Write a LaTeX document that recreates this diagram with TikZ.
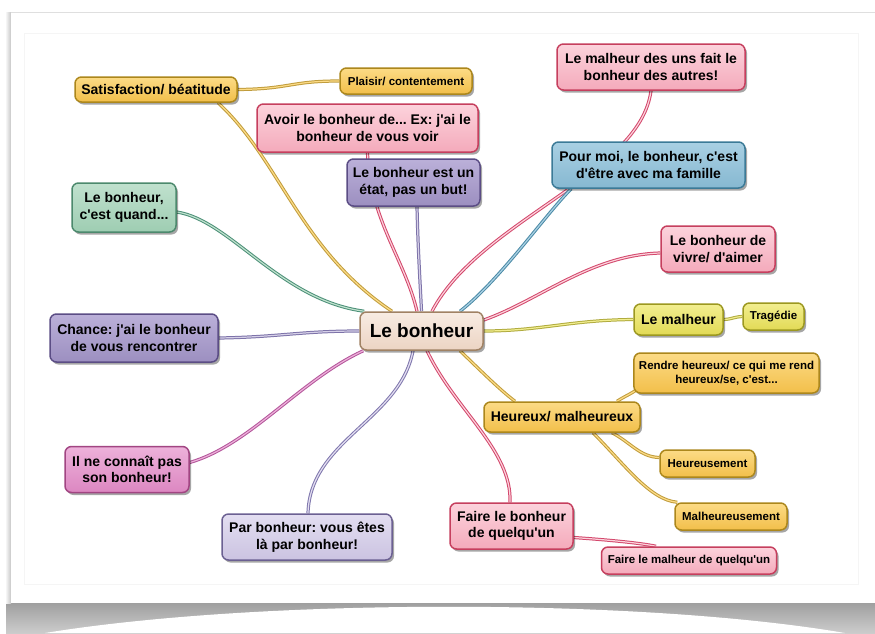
\documentclass[tikz,border=0pt]{standalone}
\usepackage{fontspec}
\setmainfont{Liberation Sans}
\usetikzlibrary{shadows}
\frenchspacing
\newcommand\ap{\textquotesingle}
\pgfdeclarelayer{paper}
\pgfdeclarelayer{lines}
\pgfsetlayers{paper,lines,main}
% node colours: fill top, fill bottom, border
\definecolor{goldT}{HTML}{FCDB86}\definecolor{goldB}{HTML}{F2BF4A}\definecolor{goldD}{HTML}{AC871C}
\definecolor{pinkT}{HTML}{FCD3DC}\definecolor{pinkB}{HTML}{F4AABB}\definecolor{pinkD}{HTML}{C63F5E}
\definecolor{purT}{HTML}{BBB0D9}\definecolor{purB}{HTML}{9C8FC0}\definecolor{purD}{HTML}{5B4D85}
\definecolor{bluT}{HTML}{A9D0E3}\definecolor{bluB}{HTML}{86B8D1}\definecolor{bluD}{HTML}{3B7A97}
\definecolor{grnT}{HTML}{C0E1CE}\definecolor{grnB}{HTML}{9ECDB2}\definecolor{grnD}{HTML}{4C896D}
\definecolor{ctrT}{HTML}{F8ECE3}\definecolor{ctrB}{HTML}{ECD4C3}\definecolor{ctrD}{HTML}{A08264}
\definecolor{yelT}{HTML}{F2EE90}\definecolor{yelB}{HTML}{E2DA55}\definecolor{yelD}{HTML}{9C9820}
\definecolor{magT}{HTML}{EDB1DA}\definecolor{magB}{HTML}{DC87C1}\definecolor{magD}{HTML}{A14582}
\definecolor{lavT}{HTML}{E3DEF1}\definecolor{lavB}{HTML}{CBC3E1}\definecolor{lavD}{HTML}{6B6092}
% connector colours
\definecolor{goldL}{HTML}{C09C3C}\definecolor{pinkL}{HTML}{D3476C}\definecolor{purL}{HTML}{7C72A8}
\definecolor{bluL}{HTML}{4B8AA6}\definecolor{grnL}{HTML}{4C9078}\definecolor{yelL}{HTML}{B0AB3E}
\definecolor{magL}{HTML}{B3549A}\definecolor{lavL}{HTML}{7F77AD}
\tikzset{
  mmbox/.style={rounded corners=6.5pt, line width=1.5pt, align=center,
    font=\bfseries\fontsize{14}{16.5}\selectfont, text=black,
    inner xsep=5pt, inner ysep=4pt,
    drop shadow={shadow xshift=2pt, shadow yshift=-2.5pt, opacity=0.35, fill=black}},
  smalltxt/.style={font=\bfseries\fontsize{11.5}{13.5}\selectfont},
  gold/.style={mmbox, draw=goldD, top color=goldT, bottom color=goldB},
  pink/.style={mmbox, draw=pinkD, top color=pinkT, bottom color=pinkB},
  pur/.style={mmbox, draw=purD, top color=purT, bottom color=purB},
  blu/.style={mmbox, draw=bluD, top color=bluT, bottom color=bluB},
  grn/.style={mmbox, draw=grnD, top color=grnT, bottom color=grnB},
  ctrbox/.style={mmbox, draw=ctrD, top color=ctrT, bottom color=ctrB,
    font=\bfseries\fontsize{19}{22}\selectfont},
  yel/.style={mmbox, draw=yelD, top color=yelT, bottom color=yelB},
  mag/.style={mmbox, draw=magD, top color=magT, bottom color=magB},
  lav/.style={mmbox, draw=lavD, top color=lavT, bottom color=lavB},
  link/.style={line width=1pt, double distance=1.2pt},
  goldlink/.style={link, draw=goldL, double=goldT},
  pinklink/.style={link, draw=pinkL, double=pinkT},
  purlink/.style={link, draw=purL, double=purT!60},
  blulink/.style={link, draw=bluL, double=bluT},
  grnlink/.style={link, draw=grnL, double=grnT},
  yellink/.style={link, draw=yelL, double=yelT},
  maglink/.style={link, draw=magL, double=magT},
  lavlink/.style={link, draw=lavL, double=lavT},
}
\begin{document}
\begin{tikzpicture}[x=1pt,y=-1pt]
\useasboundingbox (0,0) rectangle (875,633);
% ---------- paper ----------
\begin{pgfonlayer}{paper}
\fill[white] (0,0) rectangle (875,633);
\shade[top color=gray!75, bottom color=gray!40] (6,603) rectangle (875,633);
\fill[white] (45,633) .. controls (260,598) and (640,598) .. (845,633) -- cycle;
\shade[left color=white, right color=gray!45] (5,12) rectangle (11,603);
\fill[white] (11,12) rectangle (875,603);
\draw[gray!25, line width=0.6pt] (11,12) -- (875,12);
\draw[gray!8, line width=0.6pt] (24,33) rectangle (858,584);
\end{pgfonlayer}
% ---------- nodes ----------
\node[ctrbox, minimum width=123pt, minimum height=38pt] (ctr) at (421.5,331) {Le bonheur};
\node[gold, minimum width=162pt, minimum height=25pt] (sat) at (156,89.5) {Satisfaction/ béatitude};
\node[gold, smalltxt, minimum width=132pt, minimum height=26pt] (plaisir) at (406,81) {Plaisir/ contentement};
\node[pink, minimum width=221pt, minimum height=48pt] (avoir) at (367.5,128) {Avoir le bonheur de... Ex: j\ap ai le\\bonheur de vous voir};
\node[pur, minimum width=133pt, minimum height=47pt] (etat) at (413.5,182.5) {Le bonheur est un\\état, pas un but!};
\node[pink, minimum width=188pt, minimum height=46pt] (uns) at (651,67) {Le malheur des uns fait le\\bonheur des autres!};
\node[blu, minimum width=193pt, minimum height=46pt] (pour) at (648.5,165) {Pour moi, le bonheur, c\ap est\\d\ap être avec ma famille};
\node[grn, minimum width=104pt, minimum height=49pt] (quand) at (124,207.5) {Le bonheur,\\c\ap est quand...};
\node[pink, minimum width=114pt, minimum height=46pt] (vivre) at (718,249) {Le bonheur de\\vivre/ d\ap aimer};
\node[yel, minimum width=89pt, minimum height=31pt] (lemal) at (678.5,319.5) {Le malheur};
\node[yel, smalltxt, minimum width=61pt, minimum height=27pt] (trag) at (773.5,316.5) {Tragédie};
\node[pur, minimum width=168pt, minimum height=48pt] (chance) at (134,338) {Chance: j\ap ai le bonheur\\de vous rencontrer};
\node[gold, smalltxt, minimum width=167pt, minimum height=40pt] (rendre) at (726.5,373) {Rendre heureux/ ce qui me rend\\heureux/se, c\ap est...};
\node[gold, minimum width=156pt, minimum height=30pt] (heureux) at (562,417) {Heureux/ malheureux};
\node[gold, smalltxt, minimum width=95pt, minimum height=27pt] (heurse) at (707.5,463.5) {Heureusement};
\node[gold, smalltxt, minimum width=112pt, minimum height=27pt] (malheurse) at (731,516.5) {Malheureusement};
\node[mag, minimum width=124pt, minimum height=46pt] (ilne) at (127,469.5) {Il ne connaît pas\\son bonheur!};
\node[lav, minimum width=170pt, minimum height=46pt] (par) at (307,537) {Par bonheur: vous êtes\\là par bonheur!};
\node[pink, minimum width=123pt, minimum height=46pt] (faire) at (511.5,526) {Faire le bonheur\\de quelqu\ap un};
\node[pink, smalltxt, minimum width=175pt, minimum height=27pt] (fmal) at (689,560.5) {Faire le malheur de quelqu\ap un};
% ---------- connectors ----------
\begin{pgfonlayer}{lines}
\draw[goldlink] ([xshift=62pt]sat.south) .. controls (280,160) and (300,250) .. ([xshift=-29.5pt]ctr.north);
\draw[goldlink] (sat.east) .. controls (290,89) and (290,81) .. (plaisir.west);
\draw[pinklink] (avoir.south) .. controls (370,220) and (405,260) .. ([xshift=-4.5pt]ctr.north);
\draw[purlink] ([xshift=3.5pt]etat.south) .. controls (418,250) and (420,280) .. (ctr.north);
\draw[pinklink] (uns.south) .. controls (640,175) and (480,220) .. ([xshift=10.5pt]ctr.north);
\draw[blulink] ([xshift=20pt]pour.south west) .. controls (545,215) and (500,280) .. ([xshift=38.5pt]ctr.north);
\draw[grnlink] ([yshift=-4.5pt]quand.east) .. controls (230,220) and (280,300) .. ([xshift=5pt]ctr.north west);
\draw[pinklink] ([yshift=-4pt]vivre.west) .. controls (590,255) and (540,300) .. ([yshift=11pt]ctr.east);
\draw[yellink] (lemal.west) .. controls (570,320) and (540,331) .. (ctr.east);
\draw[yellink] (lemal.east) .. controls (733,319) and (733,317) .. (trag.west);
\draw[purlink] (chance.east) .. controls (280,337) and (300,331) .. (ctr.west);
\draw[maglink] ([xshift=4pt]ctr.south west) .. controls (300,380) and (250,445) .. ([yshift=7pt]ilne.east);
\draw[lavlink] ([xshift=-8.5pt]ctr.south) .. controls (400,420) and (310,440) .. ([xshift=1pt]par.north);
\draw[pinklink] ([xshift=5.5pt]ctr.south) .. controls (455,410) and (512,450) .. ([xshift=-1.5pt]faire.north);
\draw[goldlink] ([xshift=38.5pt]ctr.south) .. controls (480,370) and (500,390) .. ([xshift=-47pt]heureux.north);
\draw[goldlink] ([xshift=55pt]heureux.north) .. controls (625,396) and (635,392) .. ([xshift=4pt,yshift=5pt]rendre.south west);
\draw[goldlink] ([xshift=50pt]heureux.south) .. controls (630,442) and (640,457) .. ([yshift=6pt]heurse.west);
\draw[goldlink] ([xshift=31pt]heureux.south) .. controls (625,465) and (650,500) .. ([xshift=3pt]malheurse.north west);
\draw[pinklink] ([yshift=-11.5pt]faire.east) .. controls (610,540) and (640,543) .. ([xshift=-33pt]fmal.north);
\end{pgfonlayer}
\end{tikzpicture}
\end{document}
